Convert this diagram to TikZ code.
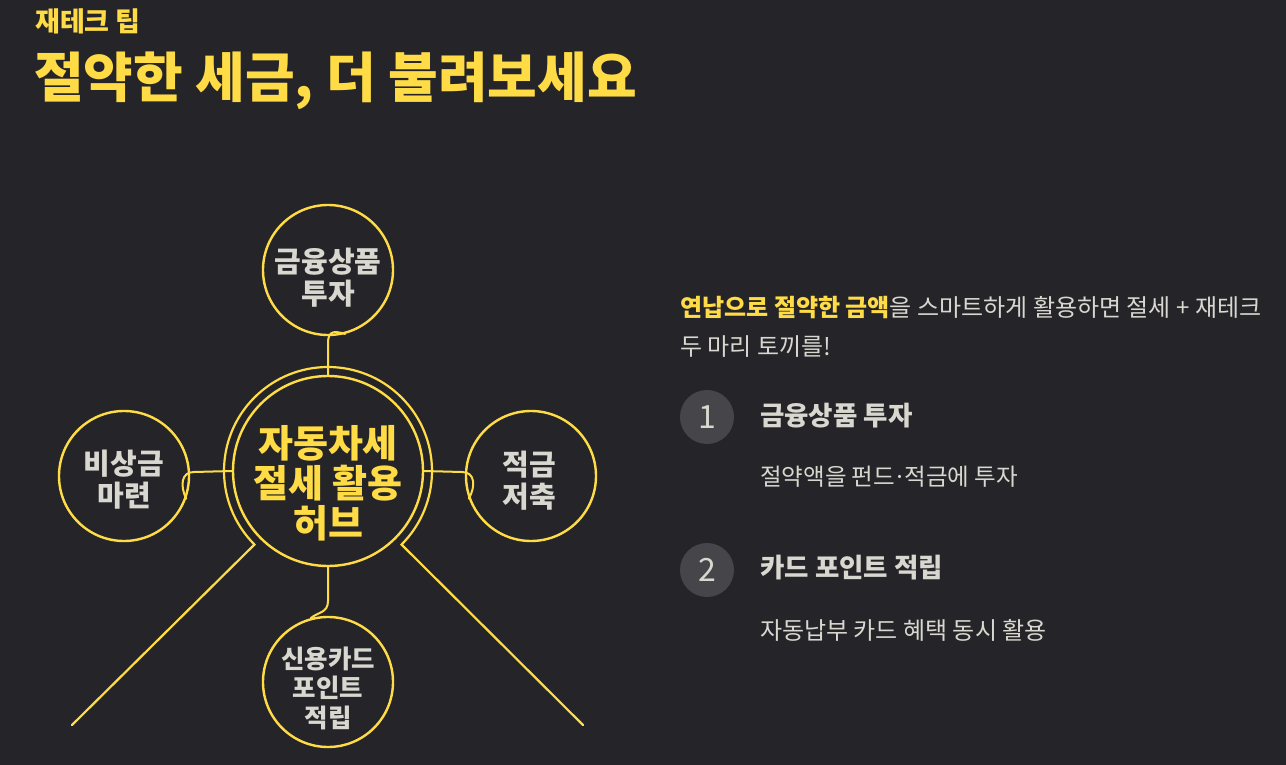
\documentclass[tikz,border=0pt]{standalone}
\usepackage{fontspec}
\setmainfont{Noto Sans CJK KR}
\newfontfamily\krblack{Noto Sans CJK KR Black}
\usetikzlibrary{calc}
\definecolor{bg}{HTML}{252529}
\definecolor{ylw}{HTML}{FFDC46}
\definecolor{txt}{HTML}{D9D8D0}
\definecolor{numbg}{HTML}{46464A}
\tikzset{
  bubble/.style={circle, draw=ylw, line width=2.4pt, minimum size=130pt, inner sep=0pt},
  bubtext/.style={align=center, inner sep=0pt, text=txt, font=\fontsize{29}{32}\selectfont\bfseries},
  hubnode/.style={circle, draw=ylw, line width=2.4pt, minimum size=190pt, inner sep=0pt},
  hubtext/.style={align=center, inner sep=0pt, text=ylw, font=\fontsize{38}{40}\selectfont\krblack},
  conn/.style={draw=ylw, line width=2pt, line cap=round},
  ring/.style={draw=ylw, line width=2.2pt, line cap=round},
  numc/.style={circle, fill=numbg, minimum size=54pt, inner sep=0pt, text=txt,
    font=\fontsize{32}{32}\selectfont},
  lbl/.style={anchor=west, inner sep=0pt, text=txt},
}
\begin{document}
\begin{tikzpicture}[x=1pt,y=-1pt]
\fill[bg] (0,0) rectangle (1286,765);
\useasboundingbox (0,0) rectangle (1286,765);

% titles
\node[lbl, text=ylw, font=\fontsize{27}{27}\selectfont\bfseries] (kicker) at (35,21) {재테크 팁};
\node[lbl, text=ylw, font=\fontsize{54}{54}\selectfont\bfseries] (title) at (34,81) {절약한 세금, 더 불려보세요};

% hub and bubbles
\node[hubnode] (hub) at (328,471) {};
\node[hubtext] (hubt) at (328,483) {자동차세\\절세 활용\\허브};
\node[bubble] (top) at (328,270) {};
\node[bubtext] (topt) at (328,278) {금융상품\\투자};
\node[bubble] (left) at (124,476) {};
\node[bubtext] (leftt) at (124,480) {비상금\\마련};
\node[bubble] (right) at (531,476) {};
\node[bubtext] (rightt) at (529,481) {적금\\저축};
\node[bubble] (bottom) at (328,682) {};
\node[bubtext, font=\fontsize{25.5}{29.5}\selectfont\bfseries] (bottomt) at (328,688) {신용카드\\포인트\\적립};

% outer ring with legs
\coordinate (dl) at (72,725);
\coordinate (dr) at (583,725);
\draw[ring] (dl) -- ($(hub.center)+(135:104)$) arc[start angle=135, end angle=405, radius=104] -- (dr);

% connectors
\draw[conn] (hub.north) -- (328,343) .. controls (328,330) and (335,331) .. (top.-75);
\draw[conn] (hub.west) -- (194,472) .. controls (181,472) and (180,486) .. (left.-20);
\draw[conn] (hub.east) -- (462,472) .. controls (475,472) and (476,486) .. (right.200);
\draw[conn] (hub.south) -- (328,601) .. controls (328,613) and (318,612) .. (bottom.105);

% right text
\node[lbl, font=\fontsize{24}{24}\selectfont] (intro1) at (680,307)
  {\textcolor{ylw}{\bfseries 연납으로 절약한 금액}을 스마트하게 활용하면 절세 + 재테크};
\node[lbl, font=\fontsize{24}{24}\selectfont] (intro2) at (680,347) {두 마리 토끼를!};

\node[numc] (n1) at (707,417) {1};
\node[lbl, font=\fontsize{26.5}{26.5}\selectfont\bfseries] (h1) at (760,416) {금융상품 투자};
\node[lbl, font=\fontsize{23.5}{23.5}\selectfont] (d1) at (760,477) {절약액을 펀드\kern-0.08em·\kern-0.08em적금에 투자};

\node[numc] (n2) at (707,570) {2};
\node[lbl, font=\fontsize{26.5}{26.5}\selectfont\bfseries] (h2) at (760,568) {카드 포인트 적립};
\node[lbl, font=\fontsize{24}{24}\selectfont] (d2) at (760,630) {자동납부 카드 혜택 동시 활용};
\end{tikzpicture}
\end{document}
